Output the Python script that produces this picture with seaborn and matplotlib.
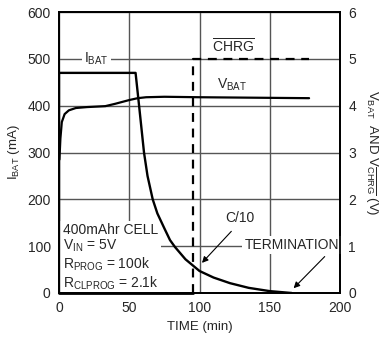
import matplotlib
matplotlib.use("Agg")
import matplotlib.pyplot as plt
import seaborn as sns
import pandas as pd
from matplotlib import font_manager

# ---- data ----
ibat_t = [0, 0, 54.5, 57, 60.5, 63, 66.7, 70, 75, 79, 82.6, 90, 100, 110, 121.7, 135, 150, 165.6]
ibat_ma = [0, 470, 470, 400, 300, 250, 200, 170, 138, 113, 98, 72, 47, 33, 21, 11, 4, 0]

vbat_t = [0.3, 1, 2, 4, 7, 12, 20, 33, 40, 45, 50, 56, 62, 75, 100, 178]
vbat_v = [2.85, 3.3, 3.65, 3.82, 3.9, 3.95, 3.97, 3.99, 4.04, 4.08, 4.12, 4.16, 4.18, 4.19, 4.18, 4.16]

chrg_low_t = [0, 95.6]
chrg_low_v = [0, 0]
chrg_high_t = [95.6, 95.6, 178]
chrg_high_v = [0, 5, 5]

x_ticks = [0, 50, 100, 150, 200]
y_left_ticks = [0, 100, 200, 300, 400, 500, 600]
y_right_ticks = [0, 1, 2, 3, 4, 5, 6]

sns.set_style("white")
names = {f.name for f in font_manager.fontManager.ttflist}
fam = "Liberation Sans Narrow" if "Liberation Sans Narrow" in names else "Liberation Sans"
plt.rcParams["font.family"] = [fam, "DejaVu Sans"]
plt.rcParams["mathtext.fontset"] = "custom"
plt.rcParams["mathtext.rm"] = fam
plt.rcParams["mathtext.it"] = fam
plt.rcParams["mathtext.bf"] = fam

fig = plt.figure(figsize=(3.8, 3.37), dpi=100)
ax = fig.add_axes([59/380, 1-293/337, 281/380, 281/337])
ax2 = ax.twinx()

df_i = pd.DataFrame({"t": ibat_t, "i": ibat_ma})
sns.lineplot(data=df_i, x="t", y="i", ax=ax, sort=False, estimator=None,
             color="black", lw=1.7, zorder=4)

df_v = pd.DataFrame({"t": vbat_t, "v": vbat_v})
sns.lineplot(data=df_v, x="t", y="v", ax=ax2, sort=False, estimator=None,
             color="black", lw=1.6)
df_cl = pd.DataFrame({"t": chrg_low_t, "v": chrg_low_v})
sns.lineplot(data=df_cl, x="t", y="v", ax=ax2, sort=False, estimator=None,
             color="black", lw=2.0, clip_on=False)
df_ch = pd.DataFrame({"t": chrg_high_t, "v": chrg_high_v})
sns.lineplot(data=df_ch, x="t", y="v", ax=ax2, sort=False, estimator=None,
             color="black", lw=1.6, linestyle=(0, (4, 3)))

ax.set_xlim(0, 200)
ax.set_ylim(0, 600)
ax2.set_ylim(0, 6)
ax.set_xticks(x_ticks)
ax.set_yticks(y_left_ticks)
ax2.set_yticks(y_right_ticks)
ax.set_xticklabels([str(v) for v in x_ticks])
ax.set_yticklabels([str(v) for v in y_left_ticks])
ax2.set_yticklabels([str(v) for v in y_right_ticks])
ax.tick_params(length=0, labelsize=10, pad=6)
ax2.tick_params(length=0, labelsize=10, pad=6)

ax.grid(True, color="#555555", lw=1.0)
ax.set_axisbelow(True)
for a in (ax, ax2):
    for s in a.spines.values():
        s.set_color("black")
        s.set_linewidth(1.3)

ax.set_xlabel("TIME (min)", fontsize=9.5, labelpad=4)
ax.set_ylabel(r"I$_{\mathrm{BAT}}$ (mA)", fontsize=9.5, labelpad=4)
ax2.set_ylabel(r"V$_{\mathrm{BAT}}$  AND V$_{\overline{\mathrm{CHRG}}}$ (V)",
               fontsize=9.5, rotation=270, labelpad=17)
ax2.set_xlabel("")

wb = dict(facecolor="white", edgecolor="none", pad=1.5)
ax.text(26.8, 500, r"I$_{\mathrm{BAT}}$", ha="center", va="center", fontsize=10, bbox=wb, zorder=3)
ax.text(124, 513, r"$\overline{\mathrm{CHRG}}$", ha="center", va="baseline", fontsize=10, zorder=3)
ax.text(123, 444, r"V$_{\mathrm{BAT}}$", ha="center", va="center", fontsize=10, zorder=3)
ax.text(128.8, 160, "C/10", ha="center", va="center", fontsize=10, zorder=3)
ax.text(165.6, 102, "TERMINATION", ha="center", va="center", fontsize=10, bbox=wb, zorder=3)
ax.annotate("", xy=(100.4, 60), xytext=(124, 136),
            arrowprops=dict(arrowstyle="-|>", color="black", lw=0.8, mutation_scale=9), zorder=3)
ax.annotate("", xy=(165.6, 6), xytext=(190.5, 82),
            arrowprops=dict(arrowstyle="-|>", color="black", lw=0.8, mutation_scale=9), zorder=3)
ax.text(2.5, 150,
        "400mAhr CELL\n" + r"V$_{\mathrm{IN}}$ = 5V" + "\n" + r"R$_{\mathrm{PROG}}$ = 100k" + "\n"
        + r"R$_{\mathrm{CLPROG}}$ = 2.1k",
        ha="left", va="top", fontsize=10, linespacing=1.1,
        bbox=dict(facecolor="white", edgecolor="none", pad=2), zorder=3)

fig.savefig("out.png", dpi=100)
